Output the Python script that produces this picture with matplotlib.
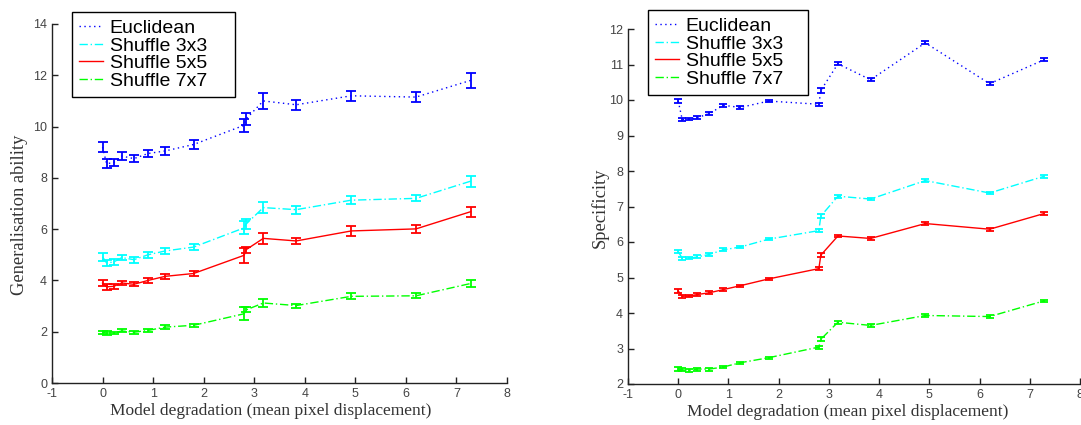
import numpy as np
import matplotlib
matplotlib.use("Agg")
import matplotlib.pyplot as plt

plt.rcParams["axes.unicode_minus"] = False

# x positions (mean pixel displacement)
x = [0, 0.08, 0.22, 0.38, 0.62, 0.9, 1.24, 1.8, 2.8, 2.84, 3.18, 3.83, 4.92, 6.2, 7.28]

labels = ["Euclidean", "Shuffle 3x3", "Shuffle 5x5", "Shuffle 7x7"]

# Generalisation ability (left)
gen_euc = [9.2, 8.55, 8.6, 8.85, 8.75, 8.95, 9.05, 9.3, 10.05, 10.3, 11.0, 10.85, 11.2, 11.15, 11.8]
gen_euc_err = [0.2, 0.17, 0.15, 0.17, 0.13, 0.15, 0.15, 0.17, 0.25, 0.22, 0.3, 0.2, 0.2, 0.2, 0.3]
gen_3x3 = [4.92, 4.68, 4.72, 4.89, 4.81, 5.0, 5.15, 5.3, 6.05, 6.2, 6.84, 6.76, 7.13, 7.2, 7.87]
gen_3x3_err = [0.15, 0.12, 0.1, 0.1, 0.12, 0.12, 0.1, 0.12, 0.25, 0.2, 0.22, 0.15, 0.15, 0.12, 0.22]
gen_5x5 = [3.9, 3.75, 3.77, 3.9, 3.85, 4.0, 4.16, 4.27, 4.98, 5.2, 5.64, 5.54, 5.93, 6.01, 6.68]
gen_5x5_err = [0.12, 0.12, 0.1, 0.08, 0.08, 0.1, 0.1, 0.1, 0.3, 0.12, 0.2, 0.12, 0.18, 0.15, 0.2]
gen_7x7 = [1.98, 1.95, 1.95, 2.03, 1.98, 2.05, 2.18, 2.25, 2.7, 2.85, 3.12, 3.02, 3.38, 3.4, 3.88]
gen_7x7_err = [0.06, 0.06, 0.05, 0.06, 0.06, 0.06, 0.07, 0.07, 0.25, 0.1, 0.15, 0.08, 0.12, 0.1, 0.15]

# Specificity (right)
spec_euc = [9.97, 9.45, 9.46, 9.5, 9.62, 9.85, 9.79, 9.97, 9.88, 10.27, 11.02, 10.57, 11.61, 10.46, 11.13]
spec_3x3 = [5.73, 5.54, 5.54, 5.58, 5.65, 5.78, 5.86, 6.08, 6.32, 6.73, 7.29, 7.21, 7.73, 7.38, 7.85]
spec_5x5 = [4.62, 4.47, 4.48, 4.52, 4.57, 4.66, 4.77, 4.96, 5.25, 5.63, 6.17, 6.1, 6.52, 6.36, 6.8]
spec_7x7 = [2.42, 2.4, 2.38, 2.42, 2.42, 2.48, 2.6, 2.74, 3.04, 3.26, 3.74, 3.65, 3.93, 3.9, 4.34]
spec_err = [0.05, 0.04, 0.03, 0.04, 0.04, 0.04, 0.03, 0.03, 0.04, 0.06, 0.04, 0.04, 0.04, 0.04, 0.04]

colors = ["#0000ff", "#00ffff", "#ff0000", "#00ff00"]
styles = [(0, (1, 2.5)), (0, (6, 2, 1, 2)), "-", (0, (6, 2, 1, 2))]

fig = plt.figure(figsize=(10.81, 4.25), dpi=100)
W, H = 1081, 425
ax1 = fig.add_axes([52 / W, (H - 383) / H, 455 / W, 359 / H])
ax2 = fig.add_axes([628 / W, (H - 384) / H, 452 / W, 355 / H])

serif = "Liberation Serif"
sans = "Liberation Sans"


def draw(ax, ys, errs, cap):
    handles = []
    for y, e, c, ls in zip(ys, errs, colors, styles):
        h = ax.errorbar(x, y, yerr=e, color=c, linestyle=ls, linewidth=1,
                        elinewidth=1.3, capsize=cap, capthick=1.3)
        handles.append(h.lines[0])
    for s in ["top", "right"]:
        ax.spines[s].set_visible(False)
    for s in ["left", "bottom"]:
        ax.spines[s].set_linewidth(1)
        ax.spines[s].set_color("#222222")
    ax.tick_params(direction="in", length=4, width=1, labelsize=9,
                   colors="#222222", labelcolor="#444444")
    ax.set_xlabel("Model degradation (mean pixel displacement)",
                  fontfamily=serif, fontsize=12.5, color="#333333", labelpad=2)
    return handles


h1 = draw(ax1, [gen_euc, gen_3x3, gen_5x5, gen_7x7],
          [gen_euc_err, gen_3x3_err, gen_5x5_err, gen_7x7_err], 3.5)
ax1.set_xlim(-1, 8)
ax1.set_ylim(0, 14)
ax1.set_xticks(range(-1, 9))
ax1.set_yticks(range(0, 15, 2))
ax1.set_ylabel("Generalisation ability", fontfamily=serif, fontsize=13.3,
               color="#333333", labelpad=4)
ax1.xaxis.label.set_x(0.481)
ax1.yaxis.label.set_y(0.468)

h2 = draw(ax2, [spec_euc, spec_3x3, spec_5x5, spec_7x7],
          [spec_err] * 4, 3)
ax2.set_xlim(-1, 8)
ax2.set_ylim(2, 12)
ax2.set_xticks(range(-1, 9))
ax2.set_yticks(range(2, 13))
ax2.set_ylabel("Specificity", fontfamily=serif, fontsize=13.3,
               color="#333333", labelpad=0)
ax2.xaxis.label.set_x(0.487)
ax2.yaxis.label.set_y(0.496)

for lab in ax1.get_xticklabels() + ax1.get_yticklabels() + ax2.get_xticklabels() + ax2.get_yticklabels():
    lab.set_fontfamily(sans)

for hs, (lx, ly, lw) in [(h1, (72, 12, 163)), (h2, (648, 10, 160))]:
    leg = fig.legend(hs, labels, loc="upper left", mode="expand",
                     bbox_to_anchor=(lx / W, 1 - (ly + 85) / H, lw / W, 85 / H),
                     prop={"family": sans, "size": 14}, frameon=True,
                     fancybox=False, framealpha=1, edgecolor="black",
                     handlelength=1.2, handletextpad=0.35, labelspacing=0.0,
                     borderpad=0.38, borderaxespad=0)
    leg.get_frame().set_linewidth(1)

fig.savefig("out.png", dpi=100)
